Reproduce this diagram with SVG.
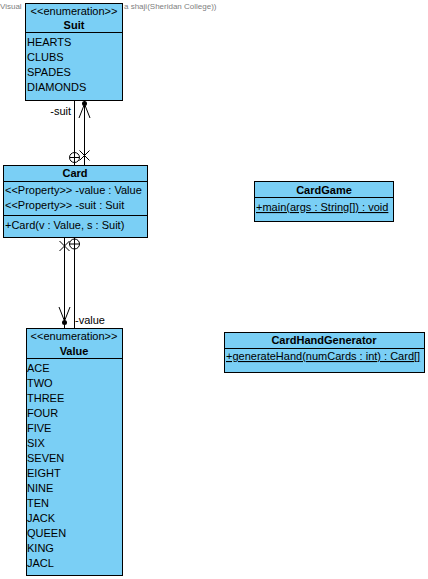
<svg xmlns="http://www.w3.org/2000/svg" width="428" height="579" viewBox="0 0 428 579">
<style>
.box{fill:#7ACFF5;stroke:#000;stroke-width:1}
.sep{stroke:#000;stroke-width:1}
text{font-family:"Liberation Sans",Arial,sans-serif;font-size:11px;fill:#000}
.b{font-weight:bold}
.c{text-anchor:middle}
.ln{stroke:#000;stroke-width:1;fill:none}
.wm{font-size:8px;fill:#808080}
</style>
<rect width="428" height="579" fill="#fff"/>
<g id="Suit">
<rect class="box" x="25.5" y="3.5" width="97" height="97"/>
<line class="sep" x1="25.5" y1="32.5" x2="122.5" y2="32.5"/>
<text class="c" x="74" y="14.5">&lt;&lt;enumeration&gt;&gt;</text>
<text class="c b" x="74" y="29">Suit</text>
<text x="27" y="46">HEARTS</text>
<text x="27" y="61">CLUBS</text>
<text x="27" y="76">SPADES</text>
<text x="27" y="91">DIAMONDS</text>
</g>
<g id="Card">
<rect class="box" x="3.5" y="165.5" width="144" height="72"/>
<line class="sep" x1="3.5" y1="181.5" x2="147.5" y2="181.5"/>
<line class="sep" x1="3.5" y1="215.5" x2="147.5" y2="215.5"/>
<text class="c b" x="75" y="177">Card</text>
<text x="5" y="194">&lt;&lt;Property&gt;&gt; -value : Value</text>
<text x="5" y="209">&lt;&lt;Property&gt;&gt; -suit : Suit</text>
<text x="5" y="228.5">+Card(v : Value, s : Suit)</text>
</g>
<g id="Value">
<rect class="box" x="26.5" y="328.5" width="96" height="247"/>
<line class="sep" x1="26.5" y1="358.5" x2="122.5" y2="358.5"/>
<text class="c" x="74" y="340">&lt;&lt;enumeration&gt;&gt;</text>
<text class="c b" x="74" y="355">Value</text>
<text x="27" y="371.5">ACE</text>
<text x="27" y="386.5">TWO</text>
<text x="27" y="401.5">THREE</text>
<text x="27" y="416.5">FOUR</text>
<text x="27" y="431.5">FIVE</text>
<text x="27" y="446.5">SIX</text>
<text x="27" y="461.5">SEVEN</text>
<text x="27" y="476.5">EIGHT</text>
<text x="27" y="491.5">NINE</text>
<text x="27" y="506.5">TEN</text>
<text x="27" y="521.5">JACK</text>
<text x="27" y="536.5">QUEEN</text>
<text x="27" y="551.5">KING</text>
<text x="27" y="566.5">JACL</text>
</g>
<g id="CardGame">
<rect class="box" x="254.5" y="181.5" width="139" height="40"/>
<line class="sep" x1="254.5" y1="197.5" x2="393.5" y2="197.5"/>
<text class="c b" x="324" y="194">CardGame</text>
<text x="256" y="211" text-decoration="underline">+main(args : String[]) : void</text>
</g>
<g id="CardHandGenerator">
<rect class="box" x="224.5" y="332.5" width="200" height="40"/>
<line class="sep" x1="224.5" y1="348.5" x2="424.5" y2="348.5"/>
<text class="c b" x="324" y="344">CardHandGenerator</text>
<text x="226" y="360" text-decoration="underline">+generateHand(numCards : int) : Card[]</text>
</g>
<g id="connectors">
<line class="ln" x1="74.5" y1="100.5" x2="74.5" y2="165.5"/>
<circle class="ln" cx="74.5" cy="157.5" r="5"/>
<line class="ln" x1="69.5" y1="157.5" x2="79.5" y2="157.5"/>
<line class="ln" x1="74.5" y1="152.5" x2="74.5" y2="162.5"/>
<text x="71" y="115" text-anchor="end">-suit</text>
<line class="ln" x1="84.5" y1="100.5" x2="84.5" y2="165.5"/>
<circle cx="84.5" cy="103.5" r="2.5" fill="#000"/>
<polyline class="ln" points="79,118 84.5,104 90,118"/>
<line class="ln" x1="79.5" y1="150.5" x2="89.5" y2="160.5"/>
<line class="ln" x1="79.5" y1="160.5" x2="89.5" y2="150.5"/>
<line class="ln" x1="64.5" y1="237.5" x2="64.5" y2="328.5"/>
<line class="ln" x1="59.5" y1="241" x2="69.5" y2="251"/>
<line class="ln" x1="59.5" y1="251" x2="69.5" y2="241"/>
<polyline class="ln" points="59,307 64.5,321 70,307"/>
<circle cx="64.5" cy="322.5" r="2.5" fill="#000"/>
<line class="ln" x1="74.5" y1="237.5" x2="74.5" y2="328.5"/>
<circle class="ln" cx="74.5" cy="244" r="5"/>
<line class="ln" x1="69.5" y1="244" x2="79.5" y2="244"/>
<line class="ln" x1="74.5" y1="239" x2="74.5" y2="249"/>
<text x="75" y="324">-value</text>
</g>
<text class="wm" x="0" y="9">Visual</text>
<text class="wm" x="124" y="9">a shaji(Sheridan College))</text>
</svg>
